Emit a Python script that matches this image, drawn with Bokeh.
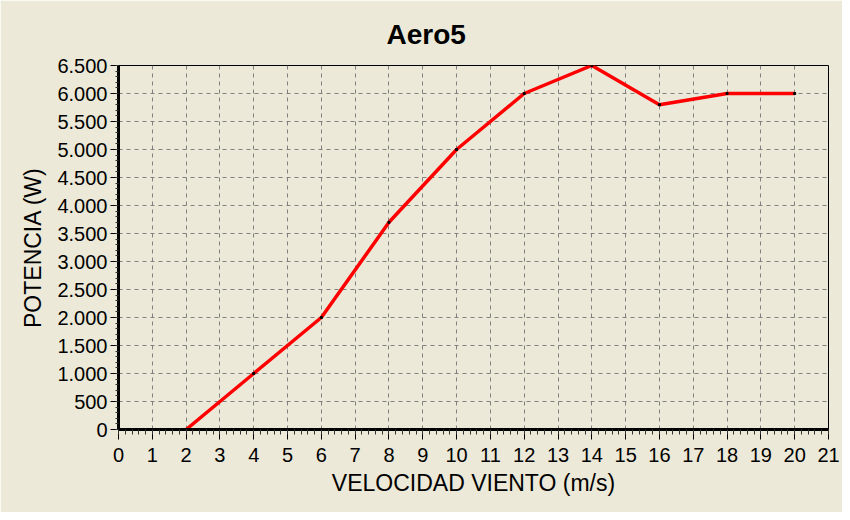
from bokeh.plotting import figure
from bokeh.models import Range1d, FixedTicker
from bokeh.embed import file_html
from bokeh.resources import INLINE

# Data
velocidad = [2, 4, 6, 8, 10, 12, 14, 16, 18, 20]
potencia = [0, 1000, 2000, 3700, 5000, 6000, 6500, 5800, 6000, 6000]

x_ticks = list(range(0, 22))
y_ticks = [0, 500, 1000, 1500, 2000, 2500, 3000, 3500, 4000, 4500, 5000, 5500, 6000, 6500]
y_tick_labels = ["0", "500", "1.000", "1.500", "2.000", "2.500", "3.000", "3.500",
                 "4.000", "4.500", "5.000", "5.500", "6.000", "6.500"]

title_text = "Aero5"
x_label = "VELOCIDAD VIENTO (m/s)"
y_label = "POTENCIA (W)"

BG = "#ECE9D8"
FONT = "Liberation Sans"

p = figure(width=842, height=512, output_backend="svg", toolbar_location=None,
           x_range=Range1d(0, 21), y_range=Range1d(0, 6500),
           min_border_left=118, min_border_top=65, min_border_right=14, min_border_bottom=83)

p.background_fill_color = BG
p.border_fill_color = BG
p.outline_line_color = "black"
p.outline_line_width = 1

# Title
p.title.text = title_text
p.title.text_font = FONT
p.title.text_font_size = "28px"
p.title.text_font_style = "bold"
p.title.text_color = "black"
p.title.align = "left"
p.title.offset = 268
p.title.standoff = 32

# Axes
xa = p.xaxis[0]
ya = p.yaxis[0]
xa.ticker = FixedTicker(ticks=x_ticks, minor_ticks=[i / 5 for i in range(0, 106)])
ya.ticker = FixedTicker(ticks=y_ticks, minor_ticks=[i * 100 for i in range(0, 66)])
ya.major_label_overrides = {v: s for v, s in zip(y_ticks, y_tick_labels)}

for ax in (xa, ya):
    ax.axis_line_color = "black"
    ax.axis_line_width = 3
    ax.major_tick_line_color = "black"
    ax.minor_tick_line_color = "#333333"
    ax.major_tick_in = 0
    ax.minor_tick_in = 0
    ax.major_label_text_font = FONT
    ax.major_label_text_font_size = "20px"
    ax.major_label_text_color = "black"
    ax.axis_label_text_font = FONT
    ax.axis_label_text_font_size = "23px"
    ax.axis_label_text_font_style = "normal"
    ax.axis_label_text_color = "black"

xa.axis_label = x_label
ya.axis_label = y_label
xa.major_tick_out = 10
xa.minor_tick_out = 5
xa.major_label_standoff = 8
xa.axis_label_standoff = 5
ya.major_tick_out = 8
ya.minor_tick_out = 3
ya.major_label_standoff = 3
ya.axis_label_standoff = 8

# Grid
for g in (p.xgrid[0], p.ygrid[0]):
    g.grid_line_color = "#808080"
    g.grid_line_dash = "4 4"
    g.grid_line_width = 1

# Line
p.line(velocidad, potencia, line_color="#FF0000", line_width=3.5)
p.scatter(velocidad, potencia, marker="square", size=2, fill_color="black", line_color="black")

open("out.html", "w").write(file_html(p, INLINE))
